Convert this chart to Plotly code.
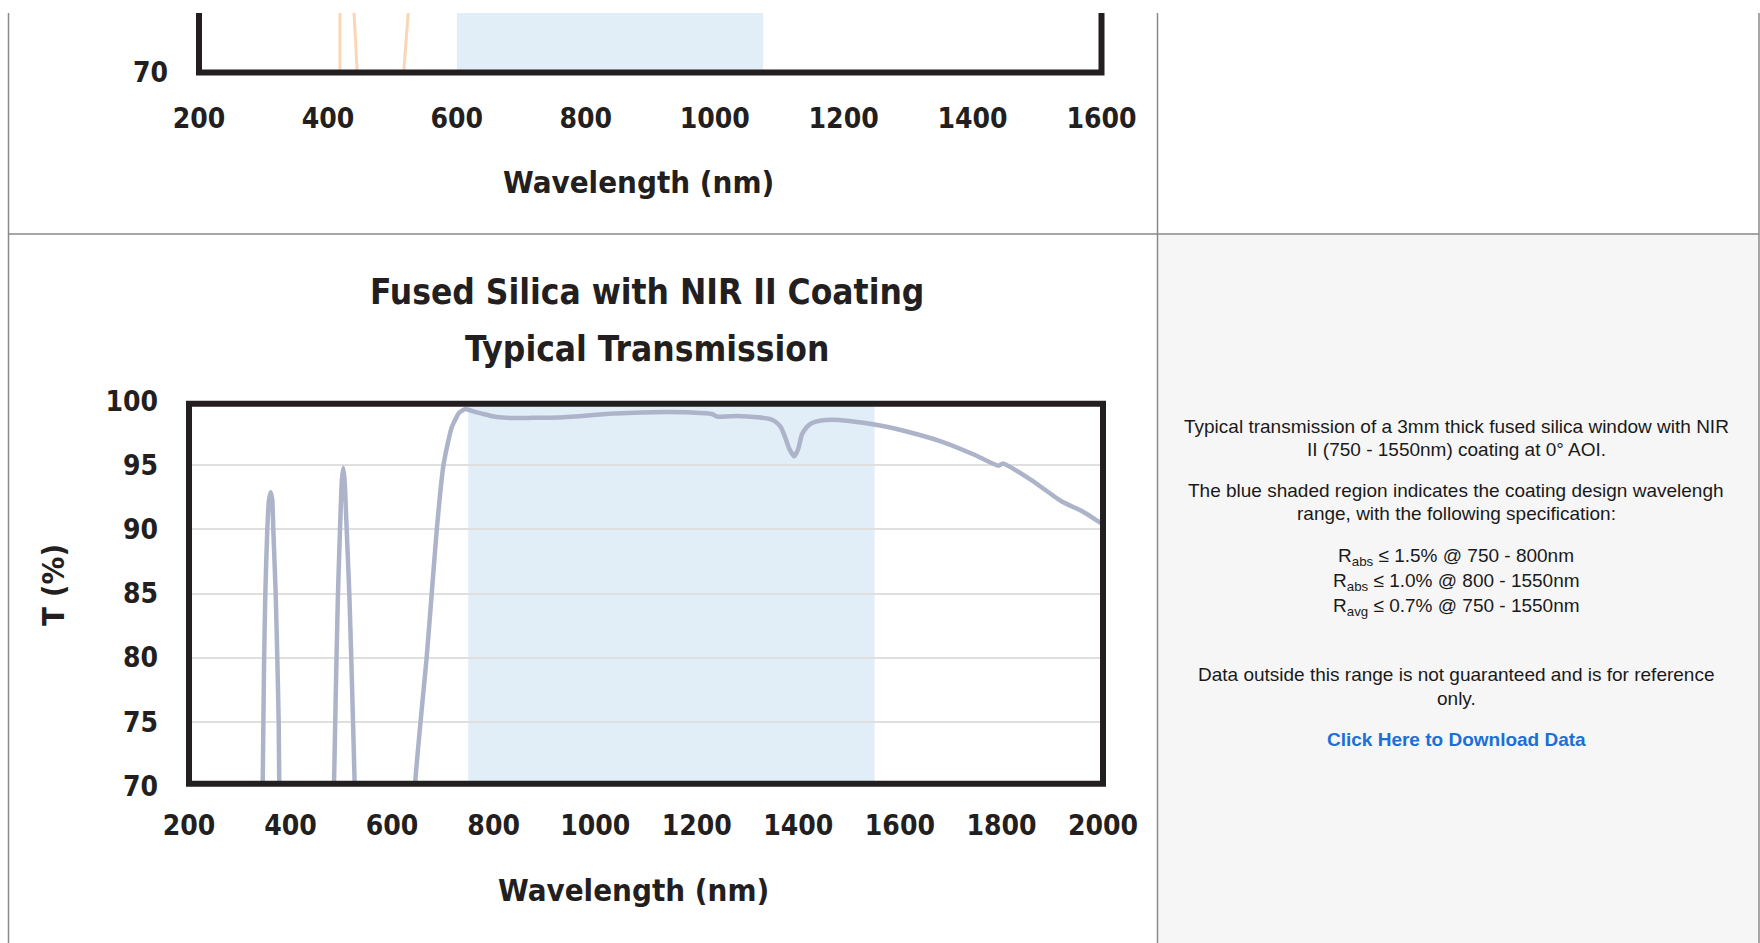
import plotly.graph_objects as go

W, H = 1760, 943

# ---------------- data ----------------
# Bottom chart: Fused Silica with NIR II coating, typical transmission
wavelength_nm = [340, 343, 345.1, 346.5, 348, 350.3, 354.2, 357.5, 360.9, 364, 366, 370.7, 373.9, 376.6, 377.8, 380, 383,
                 480, 483, 485.5, 488, 490.5, 493.4, 497.4, 501, 503.9, 506.5, 510.5, 515.7, 519.5, 523, 526.3, 529, 532,
                 640, 642, 645, 656, 668, 678, 688, 701, 717, 732, 745,
                 760, 780, 800, 825, 875, 925, 990, 1040, 1090, 1140, 1190, 1230, 1240, 1280, 1320, 1345, 1355, 1365,
                 1373, 1382, 1392, 1400, 1407, 1417, 1427, 1445, 1466, 1500, 1561, 1617, 1682, 1748, 1794, 1803,
                 1859, 1918, 1960, 1990, 2000]
transmission_pct = [60, 65, 70, 75, 80, 85, 90, 92.3, 92.9, 92.3, 90, 85, 80, 75, 70, 65, 60,
                    60, 65, 70, 75, 80, 85, 90, 93.8, 94.8, 93.8, 90, 85, 80, 75, 70, 65, 60,
                    60, 65, 70, 75, 80, 85, 90, 95, 97.9, 99.1, 99.4,
                    99.2, 99.0, 98.8, 98.7, 98.7, 98.72, 98.9, 99.05, 99.12, 99.15, 99.12, 99.0, 98.8, 98.85, 98.75, 98.6, 98.4, 98.0,
                    97.3, 96.3, 95.7, 96.3, 97.4, 98.0, 98.3, 98.5, 98.55, 98.45, 98.1, 97.6, 96.85, 95.8, 94.97, 95.15,
                    93.85, 92.2, 91.4, 90.65, 90.4]

# Top chart (only its lowest strip is visible): orange transmission curve
top_wavelength_nm = [418.6, 418.6, None, 439.5, 446.5, None, 516.0, 526.0]
top_transmission_pct = [69, 75.6, None, 75.6, 69, None, 69, 75.6]

x_ticks_bottom = [200, 400, 600, 800, 1000, 1200, 1400, 1600, 1800, 2000]
x_ticks_top = [200, 400, 600, 800, 1000, 1200, 1400, 1600]
y_ticks = [70, 75, 80, 85, 90, 95, 100]

band_bottom = (750, 1550)   # coating design range (nm)
band_top = (600, 1075)

title_lines = ["Fused Silica with NIR II Coating", "Typical Transmission"]
x_title = "Wavelength (nm)"
y_title = "T (%)"

desc_lines = [
    "Typical transmission of a 3mm thick fused silica window with NIR",
    "II (750 - 1550nm) coating at 0° AOI.",
    "The blue shaded region indicates the coating design wavelengh",
    "range, with the following specification:",
    "R<sub>abs</sub> ≤ 1.5% @ 750 - 800nm",
    "R<sub>abs</sub> ≤ 1.0% @ 800 - 1550nm",
    "R<sub>avg</sub> ≤ 0.7% @ 750 - 1550nm",
    "Data outside this range is not guaranteed and is for reference",
    "only.",
]
desc_y_px = [426.5, 449, 490.5, 513.5, 557, 582, 607, 674, 698]
link_text = "Click Here to Download Data"

# ---------------- styling ----------------
def px(x):
    return x / W

def py(y):
    return 1 - y / H

COND = "Liberation Sans Narrow, DejaVu Sans Condensed, Liberation Sans, sans-serif"
ARIAL = "Liberation Sans, Arial, sans-serif"
INK = "#231f20"
GRID = "#dfdfdf"
BAND = "#e1edf7"
CURVE = "#adb4ca"
ORANGE = "#fad6b6"
BORDER = "#8a8a8a"

# plot area geometry (pixels)
bx0, bx1, by_top, by_bot = 189, 1103, 401.2, 785.8
tx0, tx1, ty_top, ty_bot = 199, 1101.5, 13, 72.6
top_ymax = 70 + (ty_bot - ty_top) / 64.1 * 5

fig = go.Figure()

fig.add_trace(go.Scatter(x=wavelength_nm, y=transmission_pct, mode="lines",
                         line=dict(color=CURVE, width=4.5, shape="spline", smoothing=0.5),
                         xaxis="x", yaxis="y", showlegend=False, hoverinfo="skip"))
fig.add_trace(go.Scatter(x=top_wavelength_nm, y=top_transmission_pct, mode="lines",
                         line=dict(color=ORANGE, width=3), xaxis="x2", yaxis="y2",
                         connectgaps=False, showlegend=False, hoverinfo="skip"))

tickfont = dict(family=COND, size=28, color=INK, weight="bold")

fig.update_layout(
    template="none",
    width=W, height=H,
    margin=dict(l=0, r=0, t=0, b=0, pad=0, autoexpand=False),
    paper_bgcolor="white", plot_bgcolor="white",
    showlegend=False,
    xaxis=dict(domain=[px(bx0), px(bx1)], range=[200, 2000], tickvals=x_ticks_bottom,
               showgrid=False, zeroline=False, showline=False, ticks="", automargin=False,
               ticklabelstandoff=20, tickfont=tickfont, anchor="y"),
    yaxis=dict(domain=[py(by_bot), py(by_top)], range=[70, 100], tickvals=y_ticks,
               showgrid=True, gridcolor=GRID, gridwidth=2, zeroline=False, showline=False,
               ticks="", automargin=False, ticklabelstandoff=30, tickfont=tickfont, anchor="x"),
    xaxis2=dict(domain=[px(tx0), px(tx1)], range=[200, 1600], tickvals=x_ticks_top,
                showgrid=False, zeroline=False, showline=False, ticks="", automargin=False,
                ticklabelstandoff=26, tickfont=tickfont, anchor="y2"),
    yaxis2=dict(domain=[py(ty_bot), py(ty_top)], range=[70, top_ymax],
                tickvals=[v for v in y_ticks if v <= top_ymax],
                showgrid=False, zeroline=False, showline=False,
                ticks="", automargin=False, ticklabelstandoff=30, tickfont=tickfont, anchor="x2"),
)

shapes = []
# table cells / borders
shapes.append(dict(type="rect", xref="paper", yref="paper", x0=px(1157.5), x1=px(1759), y0=py(943), y1=py(234),
                   fillcolor="#f6f6f6", line=dict(width=0), layer="below"))
for xv in (8.5, 1157.5, 1759):
    shapes.append(dict(type="line", xref="paper", yref="paper", x0=px(xv), x1=px(xv), y0=py(13), y1=py(943),
                       line=dict(color=BORDER, width=1.5), layer="above"))
shapes.append(dict(type="line", xref="paper", yref="paper", x0=px(8.5), x1=px(1759), y0=py(234), y1=py(234),
                   line=dict(color=BORDER, width=1.5), layer="above"))
# coating bands
shapes.append(dict(type="rect", xref="x", yref="y domain", x0=band_bottom[0], x1=band_bottom[1], y0=0, y1=1,
                   fillcolor=BAND, line=dict(width=0), layer="below"))
shapes.append(dict(type="rect", xref="x2", yref="y2 domain", x0=band_top[0], x1=band_top[1], y0=0, y1=1,
                   fillcolor=BAND, line=dict(width=0), layer="below"))
# frames
shapes.append(dict(type="rect", xref="paper", yref="paper", x0=px(bx0), x1=px(bx1), y0=py(by_bot - 2), y1=py(by_top + 2.5),
                   line=dict(color=INK, width=6), fillcolor="rgba(0,0,0,0)", layer="above"))
shapes.append(dict(type="path", xref="paper", yref="paper",
                   path=f"M {px(tx0)},{py(ty_top)} L {px(tx0)},{py(ty_bot)} L {px(tx1)},{py(ty_bot)} L {px(tx1)},{py(ty_top)}",
                   line=dict(color=INK, width=6), layer="above"))
fig.update_layout(shapes=shapes)

ann = []
title_y = [292, 349]
for t, yv in zip(title_lines, title_y):
    ann.append(dict(text=t, x=px(647), y=py(yv), xref="paper", yref="paper", showarrow=False,
                    xanchor="center", yanchor="middle",
                    font=dict(family=COND, size=35, color=INK, weight="bold")))
for xc, yc in ((633, 890), (638, 182)):
    ann.append(dict(text=x_title, x=px(xc), y=py(yc), xref="paper", yref="paper", showarrow=False,
                    xanchor="center", yanchor="middle", font=dict(family=COND, size=31, color=INK, weight="bold")))
ann.append(dict(text=y_title, x=px(53), y=py(585), xref="paper", yref="paper", showarrow=False, textangle=-90,
                xanchor="center", yanchor="middle", font=dict(family=COND, size=31, color=INK, weight="bold")))
for t, yv in zip(desc_lines, desc_y_px):
    ann.append(dict(text=t, x=px(1456), y=py(yv), xref="paper", yref="paper", showarrow=False,
                    xanchor="center", yanchor="middle", font=dict(family=ARIAL, size=19, color="#1a1a1a")))
ann.append(dict(text=f"<b>{link_text}</b>", x=px(1456), y=py(739), xref="paper", yref="paper", showarrow=False,
                xanchor="center", yanchor="middle", font=dict(family=ARIAL, size=19, color="#1b6fd6")))
fig.update_layout(annotations=ann)

fig.write_html("out.html", config={"displayModeBar": False},
               post_script="document.body.style.margin='0px';document.body.style.overflow='hidden';")
